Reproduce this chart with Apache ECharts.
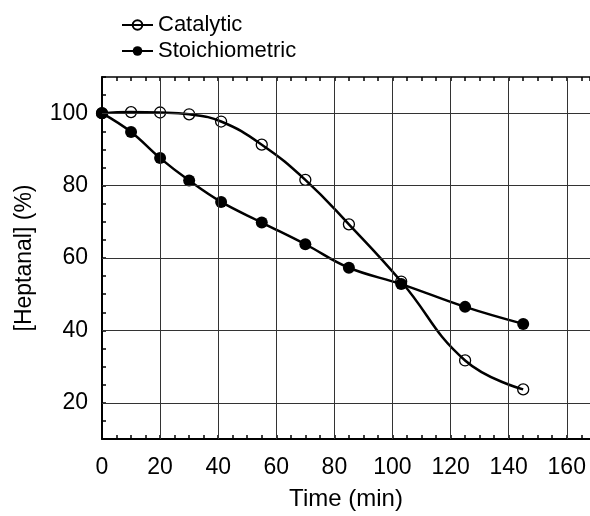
<!DOCTYPE html>
<html>
<head>
<meta charset="utf-8">
<script src="https://cdn.jsdelivr.net/npm/echarts@6/dist/echarts.min.js"></script>
<style>
  html, body { margin: 0; padding: 0; background: #fff; }
  #main { width: 590px; height: 516px; }
</style>
</head>
<body>
<div id="main"></div>
<script>
// 读图得到的数据
const timeMin = [0, 10, 20, 30, 41, 55, 70, 85, 103, 125, 145];
const catalytic = [100, 100.3, 100.2, 99.7, 97.7, 91.3, 81.6, 69.3, 53.5, 31.7, 23.7];
const stoichiometric = [100, 94.8, 87.6, 81.4, 75.5, 69.8, 63.8, 57.3, 52.8, 46.5, 41.8];
const xGridTicks = [0, 20, 40, 60, 80, 100, 120, 140, 160];
const yGridTicks = [20, 40, 60, 80, 100];

const FONT = 'Liberation Sans';

function pairs(xs, ys) {
  return xs.map((x, i) => [x, ys[i]]);
}

// 网格线用 markLine 画
const gridLines = [];
xGridTicks.filter(v => v > 0).forEach(v => gridLines.push({ xAxis: v }));
yGridTicks.forEach(v => gridLines.push({ yAxis: v }));

let myChart = echarts.init(document.getElementById('main'), null, { renderer: 'canvas' });

myChart.setOption({
  animation: false,
  backgroundColor: '#fff',
  textStyle: { fontFamily: FONT, color: '#000' },
  grid: { left: 102, top: 77, width: 490, height: 366, containLabel: false },
  legend: {
    orient: 'vertical',
    left: 116,
    top: 9,
    itemWidth: 31,
    itemHeight: 12,
    itemGap: 4,
    textStyle: { fontFamily: FONT, fontSize: 22, color: '#000' },
    data: ['Catalytic', 'Stoichiometric']
  },
  xAxis: [{
    type: 'value',
    min: 0,
    max: 168,
    interval: 5,
    name: 'Time (min)',
    nameLocation: 'middle',
    nameGap: 48,
    nameTextStyle: { fontFamily: FONT, fontSize: 24, color: '#000' },
    axisLine: { onZero: false, lineStyle: { color: '#000', width: 2 } },
    axisTick: { inside: true, length: 4, lineStyle: { color: '#000', width: 1.5 } },
    axisLabel: {
      margin: 17,
      fontFamily: FONT, fontSize: 23, color: '#000',
      showMaxLabel: false,
      formatter: v => (xGridTicks.indexOf(v) >= 0 ? String(v) : '')
    },
    splitLine: { show: false }
  }, {
    type: 'value',
    position: 'top',
    min: 0,
    max: 168,
    interval: 5,
    axisLine: { onZero: false, lineStyle: { color: '#000', width: 1.5 } },
    axisTick: { inside: true, length: 4, lineStyle: { color: '#000', width: 1.5 } },
    axisLabel: { show: false },
    splitLine: { show: false }
  }],
  yAxis: {
    type: 'value',
    min: 10,
    max: 110,
    interval: 5,
    name: '[Heptanal] (%)',
    nameLocation: 'middle',
    nameGap: 66,
    nameTextStyle: { fontFamily: FONT, fontSize: 23, color: '#000' },
    axisLine: { onZero: false, lineStyle: { color: '#000', width: 2 } },
    axisTick: { inside: true, length: 4, lineStyle: { color: '#000', width: 1.5 } },
    axisLabel: {
      margin: 14,
      fontFamily: FONT, fontSize: 23, color: '#000',
      formatter: v => (yGridTicks.indexOf(v) >= 0 ? String(v) : '')
    },
    splitLine: { show: false }
  },
  series: [
    {
      name: 'grid',
      type: 'line',
      data: [],
      silent: true,
      markLine: {
        silent: true,
        symbol: 'none',
        label: { show: false },
        lineStyle: { color: '#333', width: 1, type: 'solid' },
        data: gridLines
      }
    },
    {
      name: 'Stoichiometric',
      type: 'line',
      smooth: 0.4,
      data: pairs(timeMin, stoichiometric),
      symbol: 'circle',
      symbolSize: 12,
      itemStyle: { color: '#000' },
      lineStyle: { color: '#000', width: 2.5 },
      z: 3
    },
    {
      name: 'Catalytic',
      type: 'line',
      smooth: 0.45,
      data: pairs(timeMin, catalytic),
      symbol: 'circle',
      symbolSize: 11,
      itemStyle: { color: 'rgba(255,255,255,0)', borderColor: '#000', borderWidth: 1.3 },
      lineStyle: { color: '#000', width: 2.5 },
      z: 4
    }
  ]
});
</script>
</body>
</html>
